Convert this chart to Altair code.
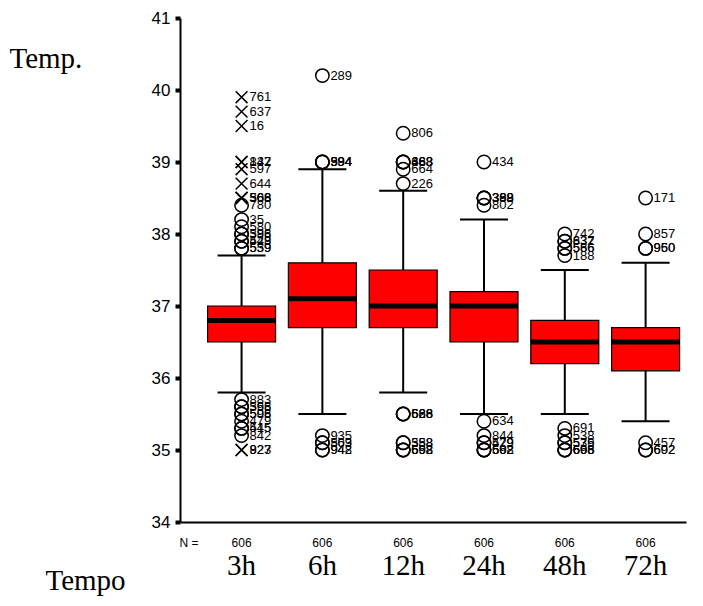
import altair as alt
import pandas as pd

# Summary statistics of body temperature at each time point
groups = ["3h", "6h", "12h", "24h", "48h", "72h"]
q1 = [36.5, 36.7, 36.7, 36.5, 36.2, 36.1]
median = [36.8, 37.1, 37.0, 37.0, 36.5, 36.5]
q3 = [37.0, 37.6, 37.5, 37.2, 36.8, 36.7]
whisk_lo = [35.8, 35.5, 35.8, 35.5, 35.5, 35.4]
whisk_hi = [37.7, 38.9, 38.6, 38.2, 37.5, 37.6]
n_cases = [606, 606, 606, 606, 606, 606]

# Outlying cases: group, value, case number, marker ("o" outlier, "x" extreme)
out_group = (["3h"] * 30 + ["6h"] * 9 + ["12h"] * 14 + ["24h"] * 12
             + ["48h"] * 13 + ["72h"] * 7)
out_value = [
    39.9, 39.7, 39.5, 39.0, 39.0, 38.9, 38.7, 38.5, 38.5, 38.5,
    38.4, 38.2, 38.1, 38.0, 38.0, 37.9, 37.9, 37.8, 37.8,
    35.7, 35.6, 35.6, 35.5, 35.5, 35.4, 35.3, 35.3, 35.2, 35.0, 35.0,
    40.2, 39.0, 39.0, 39.0, 35.2, 35.1, 35.1, 35.0, 35.0,
    39.4, 39.0, 39.0, 39.0, 38.9, 38.7, 35.5, 35.5, 35.5, 35.1, 35.1,
    35.0, 35.0, 35.0,
    39.0, 38.5, 38.5, 38.5, 38.4, 35.4, 35.2, 35.1, 35.1, 35.0, 35.0, 35.0,
    38.0, 37.9, 37.9, 37.8, 37.8, 37.7, 35.3, 35.2, 35.1, 35.1, 35.0,
    35.0, 35.0,
    38.5, 38.0, 37.8, 37.8, 35.1, 35.0, 35.0,
]
out_case = [
    "761", "637", "16", "142", "837", "597", "644", "568", "366", "508",
    "780", "35", "580", "598", "386", "528", "449", "539", "559",
    "883", "568", "396", "598", "506", "479", "545", "415", "842", "927", "823",
    "289", "984", "594", "394", "935", "569", "803", "942", "948",
    "806", "488", "663", "368", "664", "226", "626", "588", "668", "358",
    "588", "592", "668", "698",
    "434", "388", "398", "369", "802", "634", "844", "579", "429", "592",
    "568", "602",
    "742", "632", "837", "566", "586", "188", "691", "538", "539", "576",
    "608", "698", "666",
    "171", "857", "960", "950", "457", "692", "602",
]
out_marker = (["x"] * 10 + ["o"] * 9 + ["o"] * 9 + ["x"] * 2
              + ["o"] * (len(out_value) - 30))

stats = pd.DataFrame({
    "group": groups, "q1": q1, "median": median, "q3": q3,
    "lo": whisk_lo, "hi": whisk_hi, "n": [str(v) for v in n_cases],
})
outliers = pd.DataFrame({
    "group": out_group, "value": out_value,
    "case": out_case, "marker": out_marker,
})

PLOT_W, PLOT_H = 506, 504
SERIF = "Liberation Serif"
SANS = "Liberation Sans"

x_enc = alt.X(
    "group:N",
    sort=groups,
    scale=alt.Scale(paddingInner=0, paddingOuter=0.131, align=1),
    axis=alt.Axis(
        title="Tempo", titleFont=SERIF, titleFontSize=29,
        titleFontWeight="normal", titleColor="black",
        titleAlign="left", titleBaseline="middle", titleAnchor="start",
        titleX=-135, titleY=58, titleAngle=0,
        labelFont=SERIF, labelFontSize=29, labelColor="black",
        labelAngle=0, labelPadding=43, labelBaseline="middle",
        ticks=False, domainColor="black", domainWidth=2,
    ),
)
y_scale = alt.Scale(domain=[34, 41], nice=False, zero=False)
y_axis = alt.Axis(
    title="Temp.", titleFont=SERIF, titleFontSize=29,
    titleFontWeight="normal", titleColor="black", titleAngle=0,
    titleAlign="left", titleBaseline="middle",
    titleX=-171, titleY=40,
    values=[34, 35, 36, 37, 38, 39, 40, 41], format="d",
    labelFont=SANS, labelFontSize=17, labelColor="black", labelPadding=5,
    tickSize=5, tickWidth=4, tickColor="black",
    domainColor="black", domainWidth=2, grid=False,
)

base = alt.Chart(stats)

whiskers = base.mark_rule(color="black", strokeWidth=2, opacity=1).encode(
    x=x_enc,
    y=alt.Y("lo:Q", scale=y_scale, axis=y_axis),
    y2="hi:Q",
)
caps_lo = base.mark_tick(color="black", size=48, thickness=2,
                         opacity=1).encode(
    x=alt.X("group:N", sort=groups), y="lo:Q")
caps_hi = base.mark_tick(color="black", size=48, thickness=2,
                         opacity=1).encode(
    x=alt.X("group:N", sort=groups), y="hi:Q")
boxes = base.mark_bar(width=68, color="#FF0000", stroke="black",
                      strokeWidth=1.2, opacity=1).encode(
    x=alt.X("group:N", sort=groups), y="q1:Q", y2="q3:Q")
medians = base.mark_tick(color="black", size=68, thickness=5,
                         opacity=1).encode(
    x=alt.X("group:N", sort=groups), y="median:Q")

pts = alt.Chart(outliers)
circles = pts.transform_filter(alt.datum.marker == "o").mark_point(
    shape="circle", filled=False, size=180, stroke="black", strokeWidth=1.5,
    opacity=1,
).encode(x=alt.X("group:N", sort=groups), y="value:Q")
crosses = pts.transform_filter(alt.datum.marker == "x").mark_point(
    shape="M-1,-1L1,1M-1,1L1,-1", filled=False, size=140, stroke="black",
    strokeWidth=1.5, opacity=1,
).encode(x=alt.X("group:N", sort=groups), y="value:Q")
case_labels = pts.mark_text(
    align="left", baseline="middle", dx=8, font=SANS, fontSize=13,
    color="black",
).encode(x=alt.X("group:N", sort=groups), y="value:Q", text="case:N")

n_labels = base.mark_text(
    font=SANS, fontSize=12, color="black", baseline="middle",
).encode(x=alt.X("group:N", sort=groups), y=alt.value(PLOT_H + 21),
         text="n:N")
n_head = alt.Chart(pd.DataFrame({"t": ["N ="]})).mark_text(
    font=SANS, fontSize=12, color="black", baseline="middle",
).encode(x=alt.value(9), y=alt.value(PLOT_H + 21), text="t:N")

chart = alt.layer(
    whiskers, caps_lo, caps_hi, boxes, medians,
    circles, crosses, case_labels, n_labels, n_head,
).properties(
    width=PLOT_W, height=PLOT_H,
    autosize=alt.AutoSizeParams(type="none"),
    padding={"left": 180, "top": 18, "right": 17, "bottom": 84},
    background="white",
).configure_view(stroke=None)

chart.save("out.html", embed_options={"renderer": "svg", "actions": False})
